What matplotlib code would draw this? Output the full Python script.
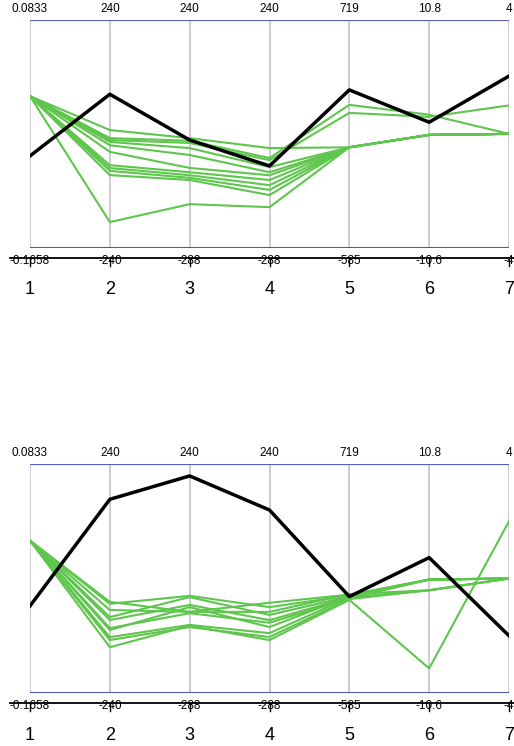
import matplotlib.pyplot as plt
from matplotlib.transforms import offset_copy

plt.rcParams['font.family'] = ['Liberation Sans', 'DejaVu Sans']

axis_names = ["1", "2", "3", "4", "5", "6", "7"]
axis_max = [0.0833, 240, 240, 240, 719, 10.8, 4]
axis_min = [-0.1658, -240, -288, -288, -585, -10.6, -4]
max_labels = ["0.0833", "240", "240", "240", "719", "10.8", "4"]
min_labels = ["-0.1658", "-240", "-288", "-288", "-585", "-10.6", "-4"]

# top panel
top_best = [-0.0654, 83.5, -38.3, -98.4, 318.7, 1.19, 2.03]
top_others = [
    [0, 8, -34, -57, -10, 0, 0],
    [0, -9, -40, -80, 233, 1.9, 0],
    [0, -13, -45, -85, 187, 1.7, 1.0],
    [0, -17, -57, -101, -10, 0, 0],
    [0, -24, -73, -113, -10, 0, 0],
    [0, -38, -103, -120, -10, 0, 0],
    [0, -66, -113, -131, -10, 0, 0],
    [0, -72, -120, -143, -10, 0, 0],
    [0, -78, -126, -154, -10, 0, 0],
    [0, -87, -131, -166, -10, 0, 0],
    [0, -186, -187, -194, -10, 0, 0],
]

# bottom panel
bottom_best = [-0.0711, 166, 212.5, 133.9, -36, 2.05, -2.0]
bottom_others = [
    [0, -49, -101, -80, -25, 0, 0],
    [0, -53, -64, -90, -30, 0, 0],
    [0, -66, -101, -101, -22, -1, 0],
    [0, -81, -67, -108, -35, 0, 0],
    [0, -87, -85, -120, -40, -1, 0],
    [0, -104, -104, -126, -45, 0, 0],
    [0, -108, -90, -136, -35, 0, 0],
    [0, -123, -131, -150, -40, 0, 0],
    [0, -129, -136, -159, -50, -1, 0],
    [0, -144, -133, -166, -55, -8.3, 2],
]

GREEN = "#5ec64c"
W, H = 514, 746


def scale(row):
    """Map raw values onto each axis' own min..max range."""
    return [(v - lo) / (hi - lo) for v, lo, hi in zip(row, axis_min, axis_max)]


def draw_panel(fig, top_px, bot_px, others, best):
    ax = fig.add_axes([30 / W, 1 - bot_px / H, 479 / W, (bot_px - top_px) / H])
    xs = list(range(1, len(axis_names) + 1))
    ax.set_xlim(1, 7)
    ax.set_ylim(0, 1)
    ax.axis("off")

    for x in xs:
        ax.axvline(x, color="#c8c8c8", lw=1.3, zorder=1)
    ax.axhline(1, color="#5a5fc4", lw=1.6, zorder=1)
    ax.axhline(0, color="#4a55cc", lw=1.5, zorder=1)

    for row in others:
        ax.plot(xs, scale(row), color=GREEN, lw=1.5, zorder=2)
    ax.plot(xs, scale(best), color="black", lw=2.5, zorder=3)

    # scale bar under the panel
    bar = offset_copy(ax.transAxes, fig=fig, y=-10, units="dots")
    ax.plot([-20 / 479, 1.02], [0, 0], color="black", lw=1.3,
            transform=bar, clip_on=False)
    tick = offset_copy(ax.get_xaxis_transform(), fig=fig, y=-10, units="dots")
    for x in xs:
        ax.plot([x, x], [0, -8 / (bot_px - top_px)], color="black", lw=1.0,
                transform=tick, clip_on=False)

    for x, hi, lo, name in zip(xs, max_labels, min_labels, axis_names):
        ax.annotate(hi, (x, 1), xytext=(0, 11), textcoords="offset pixels",
                    ha="center", va="center", fontsize=8.5, annotation_clip=False)
        ax.annotate(lo, (x, 0), xytext=(0, -13), textcoords="offset pixels",
                    ha="center", va="center", fontsize=8.5, annotation_clip=False)
        ax.annotate(name, (x, 0), xytext=(0, -42), textcoords="offset pixels",
                    ha="center", va="center", fontsize=13, annotation_clip=False)
    return ax


fig = plt.figure(figsize=(W / 100, H / 100), dpi=100)
draw_panel(fig, 20, 247.7, top_others, top_best)
draw_panel(fig, 464, 693, bottom_others, bottom_best)
fig.savefig("out.png", dpi=100)
